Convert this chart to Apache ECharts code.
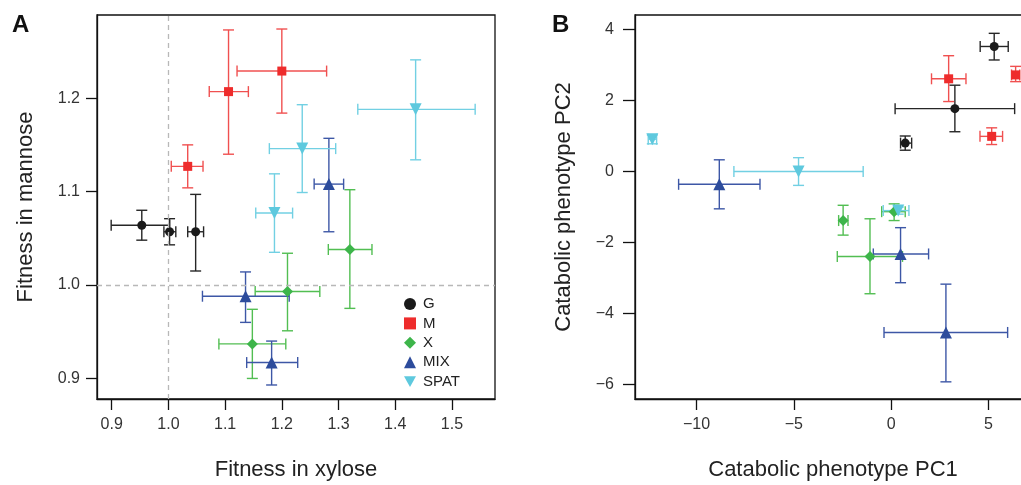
<!DOCTYPE html>
<html><head><meta charset="utf-8">
<script src="https://cdn.jsdelivr.net/npm/echarts@6/dist/echarts.min.js"></script>
<style>html,body{margin:0;padding:0;background:#fff}#c{width:1021px;height:485px}</style>
</head><body><div id="c"></div>
<script>
// ---- Panel A: Fitness in xylose (x) vs Fitness in mannose (y) ----
const A_group = ['G','G','G','M','M','M','X','X','X','MIX','MIX','MIX','SPAT','SPAT','SPAT'];
const A_x     = [0.953,1.002,1.048, 1.106,1.200,1.034, 1.320,1.210,1.148, 1.283,1.136,1.182, 1.436,1.236,1.187];
const A_y     = [1.064,1.057,1.057, 1.207,1.229,1.127, 1.038,0.993,0.937, 1.108,0.988,0.917, 1.188,1.146,1.077];
const A_xlo   = [0.899,0.992,1.034, 1.072,1.121,1.005, 1.282,1.153,1.089, 1.257,1.060,1.138, 1.334,1.178,1.154];
const A_xhi   = [1.002,1.013,1.062, 1.141,1.279,1.061, 1.359,1.267,1.207, 1.309,1.213,1.228, 1.541,1.295,1.219];
const A_ylo   = [1.048,1.043,1.015, 1.140,1.184,1.104, 0.975,0.951,0.900, 1.057,0.960,0.893, 1.134,1.099,1.035];
const A_yhi   = [1.080,1.071,1.097, 1.273,1.274,1.150, 1.102,1.034,0.974, 1.157,1.014,0.940, 1.241,1.193,1.119];
const A_xTicks = [0.9,1.0,1.1,1.2,1.3,1.4,1.5];
const A_yTicks = [0.9,1.0,1.1,1.2];
const A_refX = 1.0, A_refY = 1.0;

// ---- Panel B: Catabolic phenotype PC1 (x) vs PC2 (y) ----
const B_group = ['G','G','G','M','M','M','X','X','X','MIX','MIX','MIX','SPAT','SPAT','SPAT'];
const B_x     = [5.29,3.27,0.72, 2.95,6.39,5.16, -2.47,0.15,-1.09, -8.83,0.48,2.81, -12.27,-4.76,0.36];
const B_y     = [3.52,1.77,0.80, 2.61,2.72,0.99, -1.38,-1.13,-2.39, -0.36,-2.32,-4.53, 0.91,0.00,-1.10];
const B_xlo   = [4.57,0.20,0.48, 2.07,6.18,4.56, -2.70,-0.49,-2.77, -10.92,-0.92,-0.37, -12.48,-8.08,-0.41];
const B_xhi   = [6.01,6.34,1.05, 3.84,6.60,5.72, -2.22,0.72,0.58, -6.74,1.92,5.98, -12.05,-1.44,0.91];
const B_ylo   = [3.14,1.12,0.60, 1.97,2.53,0.76, -1.79,-1.38,-3.44, -1.05,-3.13,-5.92, 0.78,-0.39,-1.20];
const B_yhi   = [3.89,2.43,1.00, 3.26,2.96,1.23, -0.95,-0.91,-1.33, 0.33,-1.58,-3.17, 1.03,0.39,-1.00];
const B_xTicks = [-10,-5,0,5];
const B_yTicks = [-6,-4,-2,0,2,4];

const groups = ['G','M','X','MIX','SPAT'];
const markColor = {G:'#1a1a1a', M:'#ee2c2c', X:'#3db54a', MIX:'#2d4c9c', SPAT:'#5ec9de'};
const barColor  = {G:'#262626', M:'#f05050', X:'#52be52', MIX:'#3d57a6', SPAT:'#72d0e3'};
const markSymbol = {G:'circle', M:'rect', X:'diamond', MIX:'triangle', SPAT:'path://M0,0 L10,0 L5,9 Z'};
const markSize = {G:9, M:9, X:11, MIX:12, SPAT:12};

const font = 'Liberation Sans, Arial, sans-serif';

function rows(grp, x, y, xlo, xhi, ylo, yhi, g){
  const out=[];
  for(let i=0;i<grp.length;i++) if(grp[i]===g) out.push([x[i],y[i],xlo[i],xhi[i],ylo[i],yhi[i]]);
  return out;
}

function errSeries(data, color, idx){
  return {
    type:'custom', xAxisIndex:idx, yAxisIndex:idx, silent:true, z:2,
    data:data,
    renderItem:function(params, api){
      const c = api.coord([api.value(0), api.value(1)]);
      const l = api.coord([api.value(2), api.value(1)]);
      const r = api.coord([api.value(3), api.value(1)]);
      const b = api.coord([api.value(0), api.value(4)]);
      const t = api.coord([api.value(0), api.value(5)]);
      const h = 5.5;
      const st = {stroke:color, lineWidth:1.4, fill:null};
      const mk = (x1,y1,x2,y2)=>({type:'line', shape:{x1:x1,y1:y1,x2:x2,y2:y2}, style:st});
      return {type:'group', children:[
        mk(l[0],c[1],r[0],c[1]), mk(l[0],c[1]-h,l[0],c[1]+h), mk(r[0],c[1]-h,r[0],c[1]+h),
        mk(c[0],b[1],c[0],t[1]), mk(c[0]-h,b[1],c[0]+h,b[1]), mk(c[0]-h,t[1],c[0]+h,t[1])
      ]};
    }
  };
}

const series = [];
[[A_group,A_x,A_y,A_xlo,A_xhi,A_ylo,A_yhi],[B_group,B_x,B_y,B_xlo,B_xhi,B_ylo,B_yhi]].forEach((P,idx)=>{
  groups.forEach(g=>{
    const d = rows(P[0],P[1],P[2],P[3],P[4],P[5],P[6],g);
    series.push(errSeries(d, barColor[g], idx));
  });
  groups.forEach(g=>{
    const d = rows(P[0],P[1],P[2],P[3],P[4],P[5],P[6],g);
    series.push({
      type:'scatter', name:g, xAxisIndex:idx, yAxisIndex:idx, z:3,
      symbol:markSymbol[g], symbolSize:markSize[g],
      itemStyle:{color:markColor[g], opacity:1},
      data:d.map(r=>[r[0],r[1]])
    });
  });
});
// reference dashed lines in panel A
series.push({
  type:'scatter', xAxisIndex:0, yAxisIndex:0, data:[], silent:true, z:1,
  markLine:{silent:true, symbol:['none','none'], label:{show:false},
    lineStyle:{color:'#b8b8b8', type:[5,4], width:1.3},
    data:[{xAxis:A_refX},{yAxis:A_refY}]}
});

const axisCommon = {
  axisLine:{show:true, onZero:false, lineStyle:{color:'#111', width:1.3}},
  splitLine:{show:false},
  nameLocation:'middle',
  nameTextStyle:{fontFamily:font, fontSize:22, color:'#222'},
};
const tickStyle = {color:'#111', width:1.3};
const labStyle = {fontFamily:font, fontSize:16, color:'#333'};
const fmt1 = v=>v.toFixed(1);
const fmtB = v=>(v<0?'\u2212'+Math.abs(v):String(v));

const option = {
  animation:false,
  backgroundColor:'#fff',
  grid:[
    {left:97, top:15, width:398, height:384, show:true, borderColor:'#111', borderWidth:1.3, backgroundColor:'transparent', outerBoundsMode:'none', containLabel:false},
    {left:635, top:15, width:396, height:384, show:true, borderColor:'#111', borderWidth:1.3, backgroundColor:'transparent', outerBoundsMode:'none', containLabel:false}
  ],
  xAxis:[
    Object.assign({}, axisCommon, {gridIndex:0, type:'value', min:0.874, max:1.576, name:'Fitness in xylose', nameGap:60,
      axisTick:{show:true, length:11, customValues:A_xTicks, lineStyle:tickStyle},
      axisLabel:Object.assign({customValues:A_xTicks, formatter:fmt1, margin:18}, labStyle)}),
    Object.assign({}, axisCommon, {gridIndex:1, type:'value', min:-13.16, max:7.18, name:'Catabolic phenotype PC1', nameGap:60,
      axisTick:{show:true, length:11, customValues:B_xTicks, lineStyle:tickStyle},
      axisLabel:Object.assign({customValues:B_xTicks, formatter:fmtB, margin:18}, labStyle)})
  ],
  yAxis:[
    Object.assign({}, axisCommon, {gridIndex:0, type:'value', min:0.878, max:1.289, name:'Fitness in mannose', nameGap:60,
      axisTick:{show:true, length:11, customValues:A_yTicks, lineStyle:tickStyle},
      axisLabel:Object.assign({customValues:A_yTicks, formatter:fmt1, margin:17}, labStyle)}),
    Object.assign({}, axisCommon, {gridIndex:1, type:'value', min:-6.403, max:4.406, name:'Catabolic phenotype PC2', nameGap:60,
      axisTick:{show:true, length:12, customValues:B_yTicks, lineStyle:tickStyle},
      axisLabel:Object.assign({customValues:B_yTicks, formatter:fmtB, margin:21}, labStyle)})
  ],
  legend:{
    orient:'vertical', left:399, top:291.5, itemWidth:12, itemHeight:12, itemGap:4.4,
    data:groups, selectedMode:false,
    textStyle:{fontFamily:font, fontSize:15, color:'#222', padding:[0,0,0,2]}
  },
  graphic:[
    {type:'text', left:12, top:13, style:{text:'A', font:'bold 24px '+font, fill:'#111'}},
    {type:'text', left:552, top:13, style:{text:'B', font:'bold 24px '+font, fill:'#111'}}
  ],
  series:series
};
const chart = echarts.init(document.getElementById('c'), null, {renderer:'canvas'});
chart.setOption(option);
</script></body></html>
